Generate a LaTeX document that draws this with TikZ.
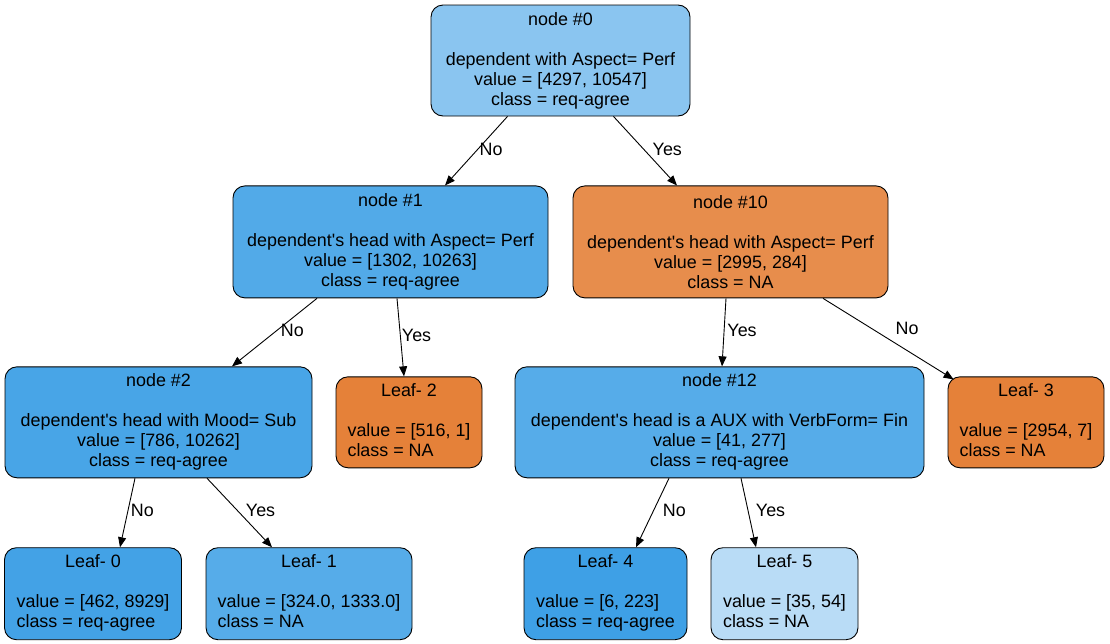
\documentclass[tikz,border=0pt]{standalone}
\usepackage{fontspec}
\setmainfont{Liberation Sans}[Ligatures=TeXOff]
\usetikzlibrary{arrows.meta,positioning}

\definecolor{blue0}{RGB}{138,197,240}
\definecolor{blue1}{RGB}{82,170,232}
\definecolor{blue2}{RGB}{72,165,231}
\definecolor{blue12}{RGB}{86,172,233}
\definecolor{blueL0}{RGB}{67,162,230}
\definecolor{blueL1}{RGB}{86,172,233}
\definecolor{blueL4}{RGB}{62,160,230}
\definecolor{blueL5}{RGB}{185,220,246}
\definecolor{orange10}{RGB}{231,141,76}
\definecolor{orangeL}{RGB}{229,129,57}

\newcommand{\leaftext}[3]{\begin{tabular}{@{}l@{}}\multicolumn{1}{@{}c@{}}{#1}\\ \\ #2\\ #3\end{tabular}}

\begin{document}
\begin{tikzpicture}[
  x=1pt, y=-1pt,
  font=\fontsize{17.9}{20}\selectfont,
  decision/.style={draw, rounded corners=12pt, align=center, inner sep=0pt, line width=0.9pt},
  leafbox/.style={decision, minimum height=92pt},
  arr/.style={-{Triangle[length=10pt,width=8pt]}, line width=0.9pt},
  lbl/.style={right, inner sep=3pt, pos=0.5, yshift=2pt}
]
  \useasboundingbox (0,0) rectangle (1110,643);

  \node[decision, fill=blue0, minimum width=259pt, minimum height=111pt] (n0) at (560.5,60.5)
    {node \#0\\[20pt]dependent with Aspect= Perf\\value = [4297, 10547]\\class = req-agree};

  \node[decision, fill=blue1, minimum width=315pt, minimum height=112pt, below=69pt of n0, xshift=-170pt] (n1)
    {node \#1\\[20pt]dependent's head with Aspect= Perf\\value = [1302, 10263]\\class = req-agree};
  \node[decision, fill=orange10, minimum width=315pt, minimum height=112pt, below=69pt of n0, xshift=170pt] (n10)
    {node \#10\\[20pt]dependent's head with Aspect= Perf\\value = [2995, 284]\\class = NA};

  \node[decision, fill=blue2, minimum width=307pt, minimum height=111pt, below=68pt of n1, xshift=-232pt] (n2)
    {node \#2\\[20pt]dependent's head with Mood= Sub\\value = [786, 10262]\\class = req-agree};
  \node[leafbox, fill=orangeL, minimum width=146pt, minimum height=91pt, below=78pt of n1, xshift=18.5pt] (l2)
    {\leaftext{Leaf- 2}{value = [516, 1]}{class = NA}};
  \node[decision, fill=blue12, minimum width=409pt, minimum height=111pt, below=68pt of n10, xshift=-11pt] (n12)
    {node \#12\\[20pt]dependent's head is a AUX with VerbForm= Fin\\value = [41, 277]\\class = req-agree};
  \node[leafbox, fill=orangeL, minimum width=156pt, minimum height=91pt, below=78pt of n10, xshift=295.5pt] (l3)
    {\leaftext{Leaf- 3}{value = [2954, 7]}{class = NA}};

  \node[leafbox, fill=blueL0, minimum width=177pt, below=69pt of n2, xshift=-65.5pt] (l0)
    {\leaftext{Leaf- 0}{value = [462, 8929]}{class = req-agree}};
  \node[leafbox, fill=blueL1, minimum width=206pt, below=69pt of n2, xshift=150.5pt] (l1)
    {\leaftext{Leaf- 1}{value = [324.0, 1333.0]}{class = NA}};
  \node[leafbox, fill=blueL4, minimum width=163pt, below=69pt of n12, xshift=-114pt] (l4)
    {\leaftext{Leaf- 4}{value = [6, 223]}{class = req-agree}};
  \node[leafbox, fill=blueL5, minimum width=147pt, below=69pt of n12, xshift=65pt] (l5)
    {\leaftext{Leaf- 5}{value = [35, 54]}{class = NA}};

  \draw[arr] ([xshift=-53pt]n0.south) -- node[lbl] (e1) {No} ([xshift=54.5pt]n1.north);
  \draw[arr] ([xshift=53pt]n0.south) -- node[lbl, xshift=4pt] (e2) {Yes} ([xshift=-53.5pt]n10.north);
  \draw[arr] ([xshift=-73.5pt]n1.south) -- node[lbl, xshift=3pt] (e3) {No} ([xshift=73.5pt]n2.north);
  \draw[arr] ([xshift=6.5pt]n1.south) -- node[lbl, xshift=-2pt] (e4) {Yes} ([xshift=-5pt]l2.north);
  \draw[arr] ([xshift=-4.5pt]n10.south) -- node[lbl] (e5) {Yes} ([xshift=2.5pt]n12.north);
  \draw[arr] ([xshift=92.5pt]n10.south) -- node[lbl, xshift=4pt, yshift=8pt] (e6) {No} ([xshift=6pt,yshift=-3pt]l3.north west);
  \draw[arr] ([xshift=-23.5pt]n2.south) -- node[lbl] (e7) {No} ([xshift=27pt]l0.north);
  \draw[arr] ([xshift=48.5pt]n2.south) -- node[lbl, xshift=3pt] (e8) {Yes} ([xshift=-37pt]l1.north);
  \draw[arr] ([xshift=-50.5pt]n12.south) -- node[lbl, xshift=7pt] (e9) {No} ([xshift=30.5pt]l4.north);
  \draw[arr] ([xshift=21.5pt]n12.south) -- node[lbl, xshift=4pt] (e10) {Yes} ([xshift=-28.5pt]l5.north);
\end{tikzpicture}
\end{document}
